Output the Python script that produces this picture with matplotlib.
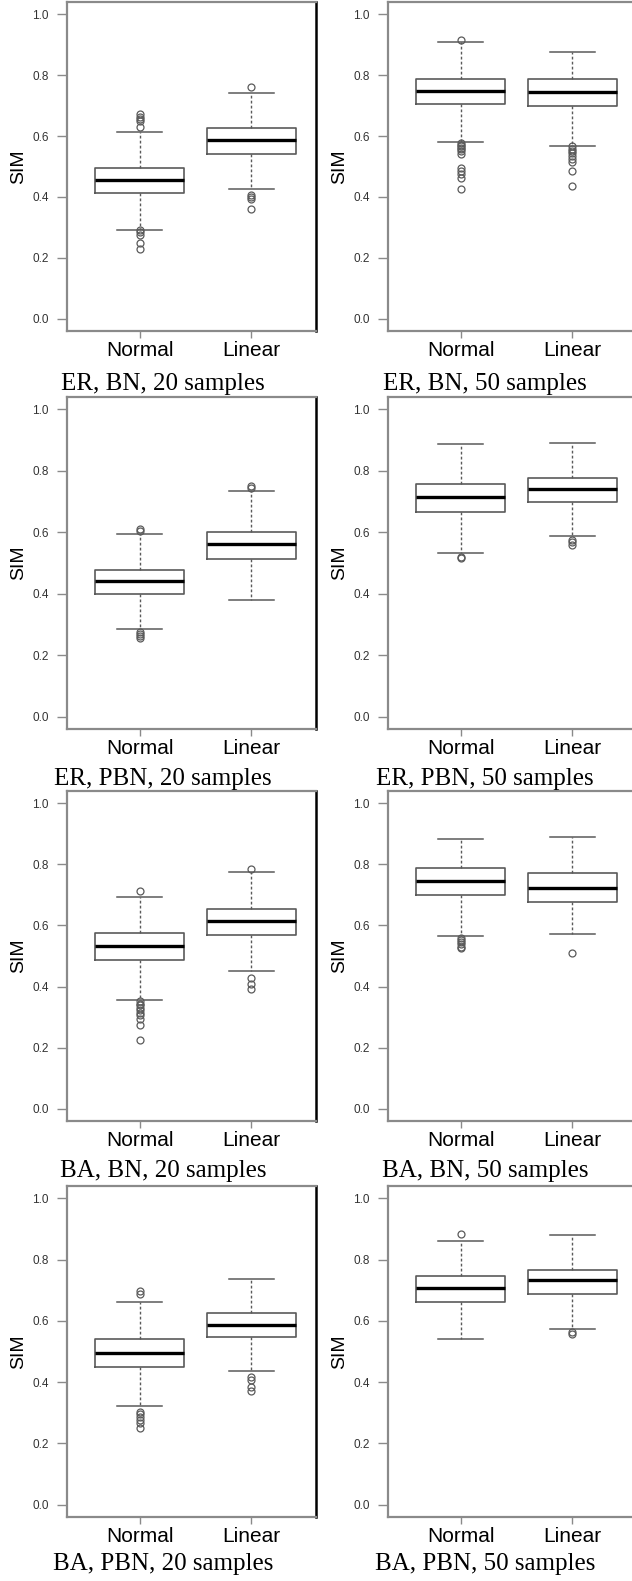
"""Eight R-style SIM boxplots (Normal vs Linear), 4 rows x 2 columns."""

import matplotlib
matplotlib.use('Agg')
import matplotlib.pyplot as plt

plt.rcParams['font.family'] = ['Liberation Sans', 'DejaVu Sans']

groups = ['Normal', 'Linear']
captions = ['ER, BN, 20 samples', 'ER, BN, 50 samples',
            'ER, PBN, 20 samples', 'ER, PBN, 50 samples',
            'BA, BN, 20 samples', 'BA, BN, 50 samples',
            'BA, PBN, 20 samples', 'BA, PBN, 50 samples']
yticks = [0.0, 0.2, 0.4, 0.6, 0.8, 1.0]

# per panel: [Normal, Linear] -> (whislo, q1, med, q3, whishi)
box_stats = [
    [(0.293, 0.414, 0.455, 0.496, 0.614), (0.425, 0.541, 0.587, 0.625, 0.740)],
    [(0.580, 0.705, 0.749, 0.788, 0.909), (0.566, 0.698, 0.743, 0.787, 0.877)],
    [(0.284, 0.399, 0.440, 0.477, 0.595), (0.381, 0.514, 0.562, 0.601, 0.734)],
    [(0.531, 0.666, 0.716, 0.757, 0.886), (0.588, 0.700, 0.742, 0.777, 0.891)],
    [(0.357, 0.486, 0.534, 0.574, 0.694), (0.452, 0.568, 0.613, 0.654, 0.775)],
    [(0.565, 0.699, 0.746, 0.788, 0.883), (0.572, 0.677, 0.721, 0.770, 0.891)],
    [(0.323, 0.448, 0.496, 0.540, 0.660), (0.435, 0.548, 0.587, 0.624, 0.738)],
    [(0.540, 0.661, 0.707, 0.747, 0.862), (0.574, 0.689, 0.733, 0.766, 0.879)],
]

outliers = [
    [[0.672, 0.664, 0.655, 0.648, 0.630, 0.291, 0.284, 0.275, 0.250, 0.228],
     [0.761, 0.405, 0.400, 0.392, 0.359]],
    [[0.916, 0.578, 0.572, 0.567, 0.561, 0.556, 0.550, 0.542,
      0.496, 0.485, 0.477, 0.463, 0.426],
     [0.567, 0.559, 0.550, 0.543, 0.534, 0.525, 0.515, 0.486, 0.437]],
    [[0.611, 0.604, 0.276, 0.268, 0.261, 0.255],
     [0.750, 0.743]],
    [[0.521, 0.516],
     [0.576, 0.567, 0.557]],
    [[0.713, 0.352, 0.344, 0.338, 0.330, 0.322, 0.315, 0.308, 0.294, 0.273, 0.224],
     [0.784, 0.428, 0.407, 0.391]],
    [[0.560, 0.552, 0.546, 0.538, 0.529, 0.525],
     [0.511]],
    [[0.698, 0.687, 0.304, 0.296, 0.285, 0.277, 0.268, 0.249],
     [0.417, 0.407, 0.385, 0.372]],
    [[0.883],
     [0.565, 0.558]],
]

W, H = 632, 1581
fig = plt.figure(figsize=(W / 100, H / 100), dpi=100)

# pixel layout: frame lefts for the two columns, frame top/bottom per row
col_left = [67, 388]
frame_w = 249
row_tb = [(2, 331), (397, 729), (791, 1121), (1186, 1517)]
cap_base = [390, 785, 1177, 1570]
cap_x = [163, 485]

frame_col = '#8a8a8a'
line_col = '#5a5a5a'

for i in range(8):
    r, c = divmod(i, 2)
    top, bot = row_tb[r]
    ax = fig.add_axes([col_left[c] / W, 1 - bot / H, frame_w / W, (bot - top) / H])

    stats = []
    for g, (lo, q1, med, q3, hi) in enumerate(box_stats[i]):
        stats.append(dict(label=groups[g], whislo=lo, q1=q1, med=med, q3=q3,
                          whishi=hi, fliers=outliers[i][g]))
    ax.bxp(stats, positions=[1, 2], widths=0.8, patch_artist=False,
           boxprops=dict(color=line_col, linewidth=1.2),
           medianprops=dict(color='black', linewidth=2.4),
           whiskerprops=dict(color=line_col, linewidth=1.0, linestyle=(0, (2, 1.6))),
           capprops=dict(color=line_col, linewidth=1.1),
           flierprops=dict(marker='o', markersize=5, markerfacecolor='none',
                           markeredgecolor=line_col, markeredgewidth=0.9))

    ax.set_xlim(0.35, 2.58)
    ax.set_ylim(-0.04, 1.04)
    ax.set_yticks(yticks)
    ax.set_yticklabels([f'{v:.1f}' for v in yticks])
    ax.tick_params(axis='y', length=7, width=1.0, color=frame_col, pad=6,
                   labelsize=8.5, labelcolor='#333333')
    ax.tick_params(axis='x', length=5, width=1.0, color=frame_col, pad=2,
                   labelsize=15, labelcolor='black')
    for side, sp in ax.spines.items():
        sp.set_color(frame_col)
        sp.set_linewidth(1.6)
    if c == 0:
        ax.spines['right'].set_color('black')
        ax.spines['right'].set_linewidth(1.8)

    ax.set_ylabel('SIM', fontsize=14)
    ax.yaxis.set_label_coords(-40 / frame_w, 0.5)

    fig.text(cap_x[c] / W, 1 - cap_base[r] / H, captions[i], ha='center',
             va='baseline', fontsize=18, family=['Liberation Serif', 'DejaVu Serif'])

fig.savefig('out.png', dpi=100, facecolor='white')
